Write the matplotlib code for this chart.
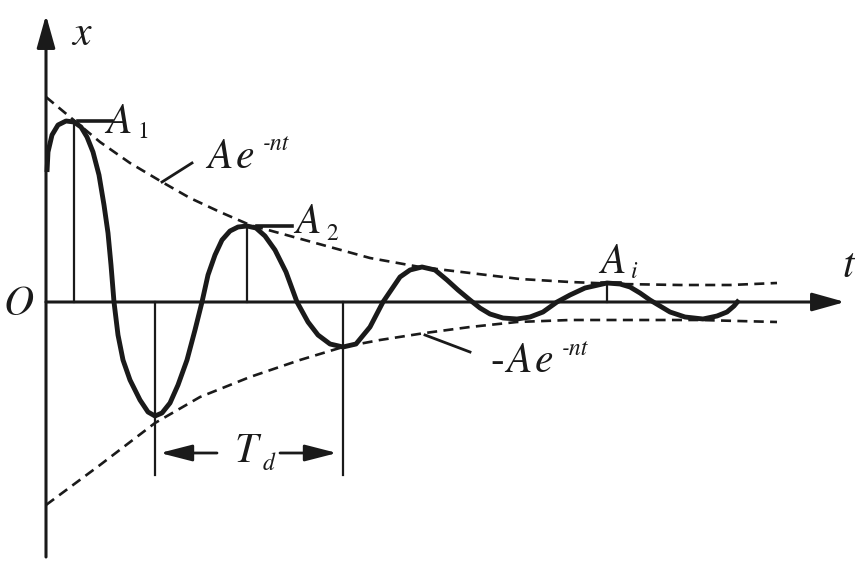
import numpy as np
import matplotlib
matplotlib.use("Agg")
import matplotlib.pyplot as plt

plt.rcParams['font.family'] = ['STIXGeneral', 'Liberation Serif', 'DejaVu Serif']
plt.rcParams['mathtext.fontset'] = 'stix'

# damped oscillation x(t)
t_curve = [0.01, 0.02, 0.06, 0.12, 0.20, 0.28, 0.35, 0.41, 0.47, 0.53, 0.58, 0.62, 0.65, 0.68,
           0.72, 0.77, 0.84, 0.94, 1.02, 1.09, 1.16, 1.24, 1.32, 1.41, 1.49, 1.56, 1.62, 1.69,
           1.76, 1.84, 1.92, 2.01, 2.10, 2.19, 2.29, 2.40, 2.51, 2.62, 2.72, 2.84, 2.97, 3.10,
           3.24, 3.37, 3.54, 3.64, 3.76, 3.89, 4.01, 4.12, 4.24, 4.34, 4.44, 4.57, 4.71, 4.84,
           4.97, 5.11, 5.24, 5.39, 5.61, 5.74, 5.84, 5.94, 6.04, 6.14, 6.24, 6.39, 6.57, 6.71,
           6.81, 6.88, 6.93]
x_curve = [1.30, 1.50, 1.67, 1.77, 1.81, 1.80, 1.75, 1.65, 1.50, 1.27, 0.97, 0.69, 0.37, 0.00,
           -0.33, -0.58, -0.78, -0.98, -1.10, -1.14, -1.11, -1.01, -0.83, -0.58, -0.28, 0.00, 0.27, 0.47,
           0.62, 0.71, 0.75, 0.76, 0.74, 0.66, 0.52, 0.30, 0.00, -0.20, -0.33, -0.42, -0.45, -0.42,
           -0.25, 0.00, 0.25, 0.32, 0.35, 0.32, 0.22, 0.12, 0.02, -0.06, -0.12, -0.16, -0.17, -0.15,
           -0.10, 0.00, 0.07, 0.14, 0.19, 0.18, 0.15, 0.09, 0.02, -0.04, -0.10, -0.15, -0.17, -0.14,
           -0.10, -0.04, 0.02]

# envelopes  Ae^-nt  and  -Ae^-nt
t_upper = [0.00, 0.24, 0.54, 0.84, 1.16, 1.44, 1.74, 2.04, 2.44, 2.84, 3.24, 3.74, 4.24,
           4.74, 5.24, 5.74, 6.34, 6.84, 7.31]
x_upper = [2.05, 1.85, 1.60, 1.39, 1.20, 1.04, 0.90, 0.77, 0.66, 0.55, 0.44, 0.35, 0.29,
           0.23, 0.20, 0.18, 0.17, 0.17, 0.19]
t_lower = [0.00, 0.54, 1.09, 1.54, 2.04, 2.54, 2.97, 3.34, 3.79, 4.24, 4.71, 5.24, 5.84, 6.54, 7.31]
x_lower = [-2.03, -1.63, -1.21, -0.95, -0.75, -0.58, -0.45, -0.38, -0.31, -0.25, -0.20, -0.18,
           -0.18, -0.18, -0.20]

# peaks A1, A2, Ai and the two troughs spanning Td
peak_t = [0.28, 2.01, 5.61]
peak_x = [1.80, 0.76, 0.19]
peak_subs = ['1', '2', 'i']
trough_t = [1.09, 2.97]
td_y = -1.51
trough_bottom = -1.73

T_MAX, X_MIN, X_MAX = 7.99, -2.55, 2.87

INK = '#1a1a1a'
fs = 30      # main letters
fs_small = 17  # subscripts / superscripts

fig = plt.figure(figsize=(8.55, 5.7), dpi=100)
ax = fig.add_axes([0, 0, 1, 1])
ax.set_xlim(-0.46, 8.09)
ax.set_ylim(-2.68, 3.02)
ax.axis('off')


def letter(x, y, s, size=fs, italic=True):
    ax.text(x, y, s, fontsize=size, style='italic' if italic else 'normal',
            ha='left', va='baseline', color=INK)


axis_arrow = dict(arrowstyle='-|>,head_length=1.0,head_width=0.28', mutation_scale=20,
                  lw=2.2, color=INK, shrinkA=0, shrinkB=0)
ax.annotate('', xy=(0, X_MAX), xytext=(0, X_MIN), arrowprops=axis_arrow)
ax.annotate('', xy=(T_MAX, 0), xytext=(0, 0), arrowprops=axis_arrow)

ax.plot(t_curve, x_curve, color=INK, lw=3.5, solid_capstyle='butt', solid_joinstyle='round')
ax.plot(t_upper, x_upper, color=INK, lw=1.9, ls=(0, (3.8, 2.4)))
ax.plot(t_lower, x_lower, color=INK, lw=1.9, ls=(0, (3.8, 2.4)))

# vertical markers
for t, x in zip(peak_t, peak_x):
    ax.plot([t, t], [0, x], color=INK, lw=1.6)
for t in trough_t:
    ax.plot([t, t], [0, trough_bottom], color=INK, lw=1.6)

# peak labels
ax.plot([0.32, 0.66], [1.81, 1.81], color=INK, lw=2.6)
ax.plot([2.11, 2.46], [0.76, 0.76], color=INK, lw=2.6)
ax.plot([5.56, 5.74], [0.19, 0.19], color=INK, lw=2.6)
letter(0.60, 1.69, 'A')
letter(0.91, 1.64, peak_subs[0], fs_small, italic=False)
letter(2.49, 0.69, 'A')
letter(2.80, 0.62, peak_subs[1], fs_small, italic=False)
letter(5.54, 0.29, 'A')
letter(5.85, 0.24, peak_subs[2], fs_small)

# envelope labels
ax.plot([1.16, 1.46], [1.20, 1.39], color=INK, lw=2.0)
letter(1.61, 1.34, 'A')
letter(1.90, 1.34, 'e')
letter(2.17, 1.52, '-nt', fs_small)
ax.plot([3.79, 4.24], [-0.33, -0.50], color=INK, lw=2.0)
letter(4.44, -0.70, '-', italic=False)
letter(4.60, -0.70, 'A')
letter(4.89, -0.70, 'e')
letter(5.16, -0.53, '-nt', fs_small)

# Td
td_arrow = dict(arrowstyle='-|>,head_length=1.4,head_width=0.36', mutation_scale=14,
                lw=2.0, color=INK, shrinkA=0, shrinkB=0)
ax.annotate('', xy=(1.14, td_y), xytext=(1.71, td_y), arrowprops=td_arrow)
ax.annotate('', xy=(2.91, td_y), xytext=(2.34, td_y), arrowprops=td_arrow)
letter(1.89, -1.60, 'T')
letter(2.17, -1.68, 'd', fs_small)

letter(0.26, 2.57, 'x')
letter(7.96, 0.25, 't')
ax.text(-0.28, -0.03, 'O', fontsize=fs, style='italic', ha='center', va='center', color=INK)

plt.savefig('out.png', dpi=100)
